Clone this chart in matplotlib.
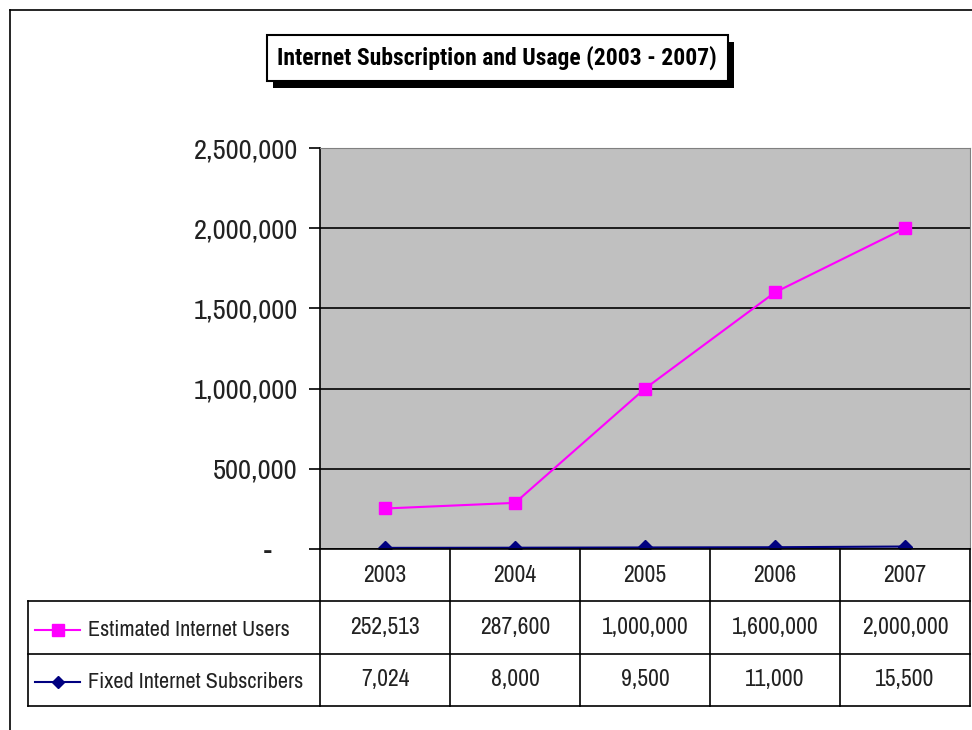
import matplotlib.pyplot as plt
from matplotlib import patheffects
from matplotlib.lines import Line2D

plt.rcParams['font.family'] = ['Archivo Narrow', 'DejaVu Sans']

years = ['2003', '2004', '2005', '2006', '2007']
users = [252513, 287600, 1000000, 1600000, 2000000]
subscribers = [7024, 8000, 9500, 11000, 15500]
y_ticks = [0, 500000, 1000000, 1500000, 2000000, 2500000]
y_labels = ['-    ', '500,000', '1,000,000', '1,500,000', '2,000,000', '2,500,000']
series_names = ['Estimated Internet Users', 'Fixed Internet Subscribers']

W, H = 972, 730
fig = plt.figure(figsize=(W / 100, H / 100), dpi=100)

# outer chart border (top and left visible)
fig.add_artist(Line2D([10 / W, 1], [1 - 10 / H, 1 - 10 / H], color='black', lw=1.2))
fig.add_artist(Line2D([10 / W, 10 / W], [0, 1 - 10 / H], color='black', lw=1.2))

# plot area
ax = fig.add_axes([320 / W, 1 - 549 / H, (970 - 320) / W, (549 - 148) / H])
ax.set_facecolor('#C0C0C0')
x = range(len(years))
ax.plot(x, users, color='#FF00FF', marker='s', markersize=9, lw=1.5)
ax.plot(x, subscribers, color='#000080', marker='D', markersize=7, lw=1.5)
ax.set_xlim(-0.5, len(years) - 0.5)
ax.set_ylim(0, 2500000)
ax.set_yticks(y_ticks)
ax.set_yticklabels(y_labels, fontsize=20.5, color='#222222')
ax.tick_params(axis='y', length=8, width=1.2, pad=8)
ax.set_xticks([])
ax.grid(axis='y', color='black', lw=1.2)
ax.set_axisbelow(True)
for s in ['top', 'right']:
    ax.spines[s].set_color('#808080')
ax.spines['left'].set_linewidth(1.2)
ax.spines['bottom'].set_linewidth(1.2)

# data table under the plot
tab = fig.add_axes([28 / W, 1 - 706 / H, (970 - 28) / W, (706 - 549) / H])
left = -0.5 - (320 - 28) / 130
tab.set_xlim(left, len(years) - 0.5)
tab.set_ylim(3, 0)
tab.axis('off')
lk = dict(color='black', lw=1.2, clip_on=False)
for i in range(len(years) + 1):
    tab.plot([i - 0.5, i - 0.5], [0, 3], **lk)
tab.plot([left, left], [1, 3], **lk)
for r in [1, 2, 3]:
    tab.plot([left, len(years) - 0.5], [r, r], **lk)
tk = dict(ha='center', va='center', fontsize=17, color='#222222')
for i, yr in enumerate(years):
    tab.text(i, 0.5, yr, **tk)
    tab.text(i, 1.5, f'{users[i]:,}', **tk)
    tab.text(i, 2.5, f'{subscribers[i]:,}', **tk)

# legend keys in row labels
key_x = [left + 7 / 130, left + 52 / 130]
tab.plot(key_x, [1.55, 1.55], color='#FF00FF', lw=1.5, clip_on=False)
tab.plot([sum(key_x) / 2], [1.55], color='#FF00FF', marker='s', markersize=8, clip_on=False)
tab.plot(key_x, [2.55, 2.55], color='#000080', lw=1.5, clip_on=False)
tab.plot([sum(key_x) / 2], [2.55], color='#000080', marker='D', markersize=6, clip_on=False)
tab.text(left + 60 / 130, 1.55, series_names[0], ha='left', va='center', fontsize=16, color='#222222')
tab.text(left + 60 / 130, 2.55, series_names[1], ha='left', va='center', fontsize=16, color='#222222')

# title with shadowed box
t = fig.text(497 / W, 1 - 58 / H, 'Internet Subscription and Usage (2003 - 2007)',
             ha='center', va='center', fontsize=17, fontweight='bold',
             family=['Roboto Condensed', 'DejaVu Sans'],
             bbox=dict(boxstyle='square,pad=0.45', fc='white', ec='black', lw=1.5))
t.get_bbox_patch().set_path_effects([
    patheffects.SimplePatchShadow(offset=(5, -5), shadow_rgbFace='black', alpha=1),
    patheffects.Normal()])

fig.savefig('out.png', dpi=100)
